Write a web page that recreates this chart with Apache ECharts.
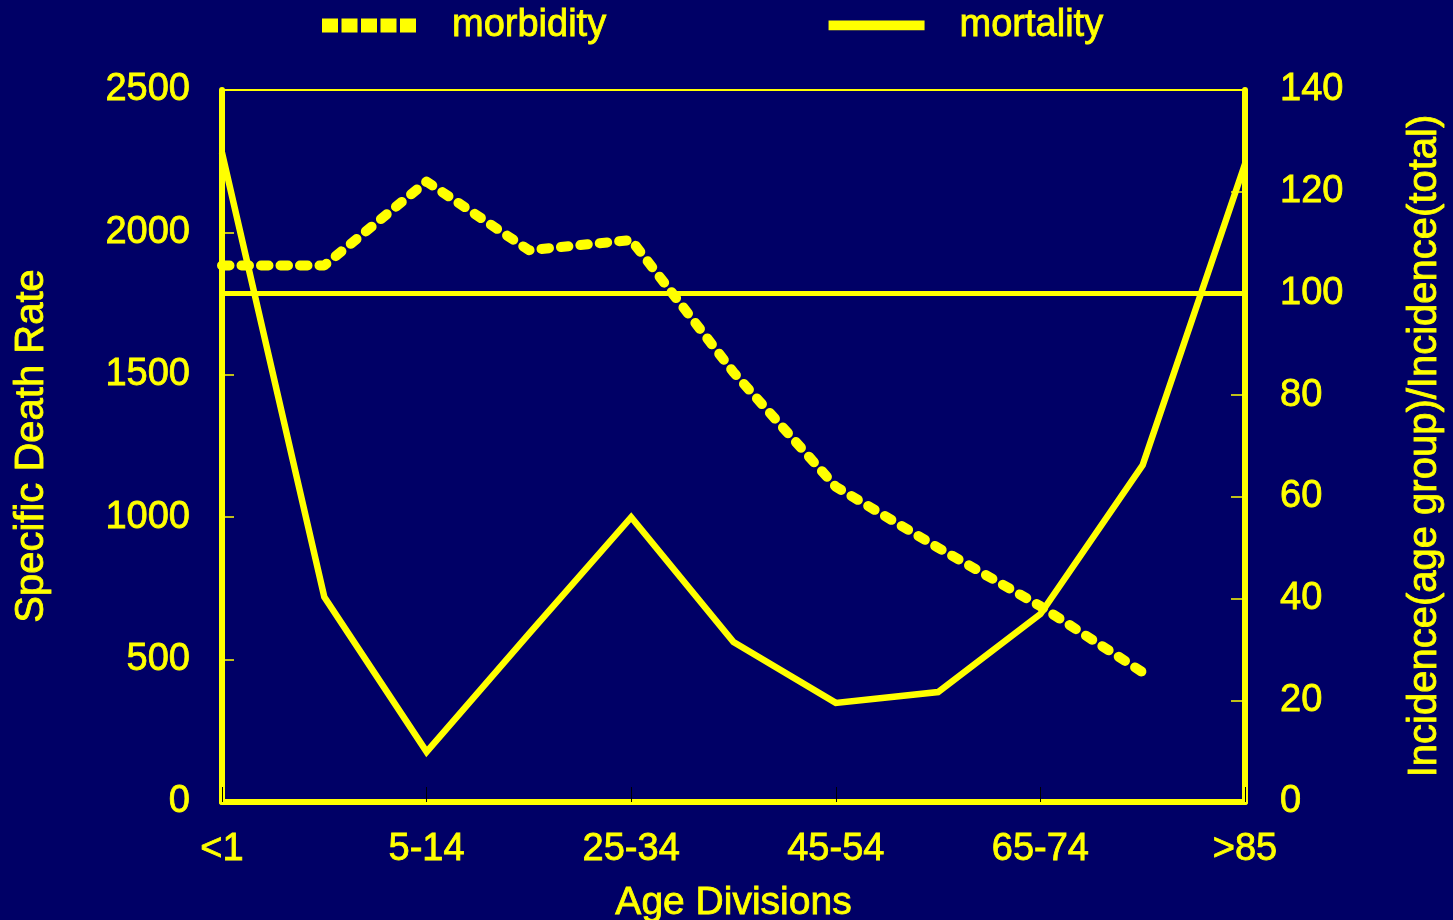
<!DOCTYPE html>
<html>
<head>
<meta charset="utf-8">
<script src="https://cdn.jsdelivr.net/npm/echarts@6/dist/echarts.min.js"></script>
<style>
html,body{margin:0;padding:0;background:#000066;}
#chart{width:1453px;height:920px;}
</style>
</head>
<body>
<div id="chart"></div>
<script>
const categories = ['<1','1-4','5-14','15-24','25-34','35-44','45-54','55-64','65-74','75-84','>85'];
const mortality = [2280, 720, 176, 590, 1000, 562, 348, 386, 660, 1183, 2240];
const morbidity = [105.5, 105.5, 122, 108.5, 110.5, 84.5, 62, 50, 38.5, 25.5, null];
const referenceLevel = 100;
const leftTicks = {min: 0, max: 2500, interval: 500};
const rightTicks = {min: 0, max: 140, interval: 20};

const Y = '#ffff00';
const FONT = 'Liberation Sans';
const bold = {textBorderColor: Y, textBorderWidth: 0.8};
const dashIcon = 'path://M0,0L16,0L16,14L0,14Z M19.5,0L35.5,0L35.5,14L19.5,14Z M39,0L55,0L55,14L39,14Z M58.5,0L74.5,0L74.5,14L58.5,14Z M78,0L94,0L94,14L78,14Z';
const solidIcon = 'path://M0,0L0.05,0L0.05,0.05Z M0,2L98,2L98,12L0,12Z M0,14L0.05,14L0.05,13.95Z';
const chart = echarts.init(document.getElementById('chart'));
chart.setOption({
  animation: false,
  backgroundColor: '#000066',
  textStyle: {fontFamily: FONT, color: Y},
  legend: {
    left: 317, top: 1,
    itemWidth: 96, itemHeight: 14, itemGap: 222,
    textStyle: Object.assign({color: Y, fontSize: 38, fontFamily: FONT, padding: [0, 0, 0, 30]}, bold),
    data: [
      {name: 'morbidity', icon: dashIcon, itemStyle: {color: Y}},
      {name: 'mortality', icon: solidIcon, itemStyle: {color: Y}}
    ]
  },
  grid: {left: 222, right: 208, top: 90, bottom: 118, show: true, borderColor: Y, borderWidth: 2,
         backgroundColor: 'transparent', containLabel: false, outerBoundsMode: 'none'},
  xAxis: {
    type: 'category', data: categories, boundaryGap: false,
    name: 'Age Divisions', nameLocation: 'middle', nameGap: 82,
    nameTextStyle: Object.assign({color: Y, fontSize: 39, fontFamily: FONT}, bold),
    axisLine: {lineStyle: {color: Y, width: 6}},
    axisTick: {inside: true, length: 15, interval: 1, lineStyle: {color: '#000', width: 1}},
    axisLabel: Object.assign({interval: 1, color: Y, fontSize: 38, fontFamily: FONT, margin: 29}, bold),
    splitLine: {show: false}
  },
  yAxis: [
    {
      type: 'value', position: 'left', min: leftTicks.min, max: leftTicks.max, interval: leftTicks.interval,
      name: 'Specific Death Rate', nameLocation: 'middle', nameRotate: 90, nameGap: 170,
      nameTextStyle: Object.assign({color: Y, fontSize: 40, fontFamily: FONT}, bold),
      axisLine: {show: true, lineStyle: {color: Y, width: 6}},
      axisTick: {show: true, inside: true, length: 12, lineStyle: {color: Y, width: 1.5}},
      axisLabel: Object.assign({color: Y, fontSize: 38, fontFamily: FONT, margin: 32, formatter: v => String(v)}, bold),
      splitLine: {show: false}
    },
    {
      type: 'value', position: 'right', min: rightTicks.min, max: rightTicks.max, interval: rightTicks.interval,
      name: 'Incidence(age group)/Incidence(total)', nameLocation: 'middle', nameRotate: 90, nameGap: 160,
      nameTextStyle: Object.assign({color: Y, fontSize: 40, fontFamily: FONT}, bold),
      axisLine: {show: true, lineStyle: {color: Y, width: 6}},
      axisTick: {show: true, inside: true, length: 14, lineStyle: {color: Y, width: 1.5}},
      axisLabel: Object.assign({color: Y, fontSize: 38, fontFamily: FONT, margin: 35, formatter: v => String(v)}, bold),
      splitLine: {show: false}
    }
  ],
  series: [
    {
      name: 'morbidity', type: 'line', yAxisIndex: 1, data: morbidity,
      symbol: 'none', showSymbol: false, connectNulls: false,
      lineStyle: {color: Y, width: 10, type: [7.5, 12], cap: 'round', join: 'round'},
      itemStyle: {color: Y},
      markLine: {
        silent: true, symbol: ['none', 'none'], label: {show: false},
        lineStyle: {color: Y, width: 5, type: 'solid'},
        data: [{yAxis: referenceLevel}]
      },
      z: 3
    },
    {
      name: 'mortality', type: 'line', yAxisIndex: 0, data: mortality,
      symbol: 'none', showSymbol: false,
      lineStyle: {color: Y, width: 6.5, type: 'solid', join: 'miter'},
      itemStyle: {color: Y},
      z: 4
    }
  ]
});
</script>
</body>
</html>
